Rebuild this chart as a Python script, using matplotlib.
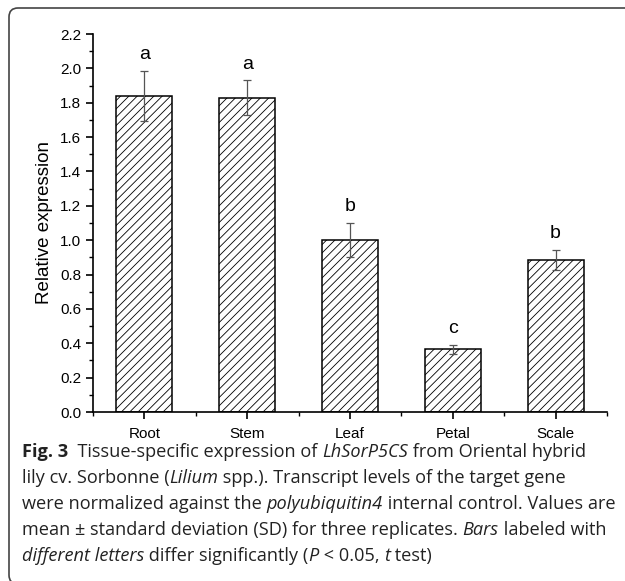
import numpy as np
import matplotlib
matplotlib.use("Agg")
import matplotlib.pyplot as plt
from matplotlib.patches import FancyBboxPatch
from matplotlib.ticker import MultipleLocator, FormatStrFormatter
from matplotlib.transforms import IdentityTransform

# data
tissues = ["Root", "Stem", "Leaf", "Petal", "Scale"]
expr = [1.84, 1.83, 1.00, 0.365, 0.885]
sd = [0.145, 0.10, 0.10, 0.027, 0.06]
letters = ["a", "a", "b", "c", "b"]

caption = [
    [("Fig. 3", "b"), ("  Tissue-specific expression of ", "n"), ("LhSorP5CS", "i"),
     (" from Oriental hybrid", "n")],
    [("lily cv. Sorbonne (", "n"), ("Lilium", "i"),
     (" spp.). Transcript levels of the target gene", "n")],
    [("were normalized against the ", "n"), ("polyubiquitin4", "i"),
     (" internal control. Values are", "n")],
    [("mean \u00b1 standard deviation (SD) for three replicates. ", "n"), ("Bars", "i"),
     (" labeled with", "n")],
    [("different letters", "i"), (" differ significantly (", "n"), ("P", "i"),
     (" < 0.05, ", "n"), ("t", "i"), (" test)", "n")],
]

plt.rcParams["font.family"] = ["Liberation Sans", "DejaVu Sans"]
plt.rcParams["hatch.linewidth"] = 0.6

W, H = 625, 581
fig = plt.figure(figsize=(W / 100, H / 100), dpi=100)

# rounded frame (pixel coordinates), right and bottom run off the page
frame = FancyBboxPatch((9, -3), 700, H - 8 + 3,
                       boxstyle="round,pad=0,rounding_size=9",
                       transform=IdentityTransform(), fill=False,
                       edgecolor="#444444", linewidth=1.2, clip_on=False)
fig.patches.append(frame)

ax = fig.add_axes([93 / W, 1 - 412 / H, 514 / W, (412 - 34) / H])
x = np.arange(1, len(tissues) + 1)
ax.bar(x, expr, width=0.545, color="white", edgecolor="black",
       hatch="////", linewidth=1.1, zorder=2)
ax.errorbar(x, expr, yerr=sd, fmt="none", ecolor="#555555",
            elinewidth=0.9, capsize=2.7, capthick=0.9, zorder=3)
for xi, m, s, lab in zip(x, expr, sd, letters):
    ax.text(xi, m + s + 0.095, lab, ha="center", va="center", fontsize=14)

ax.set_xlim(0.5, 5.5)
ax.set_ylim(0, 2.2)
ax.set_xticks(x)
ax.set_xticklabels(tissues)
ax.xaxis.set_minor_locator(MultipleLocator(1.0, offset=0.5))
ax.yaxis.set_major_locator(MultipleLocator(0.2))
ax.yaxis.set_minor_locator(MultipleLocator(0.1))
ax.yaxis.set_major_formatter(FormatStrFormatter("%.1f"))
for side in ["top", "right"]:
    ax.spines[side].set_visible(False)
for side in ["left", "bottom"]:
    ax.spines[side].set_linewidth(1.2)
ax.tick_params(which="major", direction="out", length=5, width=1.2,
               labelsize=11, pad=3.5)
ax.tick_params(which="minor", direction="out", length=3, width=1.0)
ax.tick_params(axis="x", which="major", pad=6)
ax.set_ylabel("Relative expression", fontsize=13.5, labelpad=5)

# caption, drawn segment by segment so italics/bold can be mixed
cap_font = "Open Sans"
cap_size = 13.1
styles = {"n": dict(), "i": dict(style="italic"), "b": dict(weight="bold")}
fig.canvas.draw()
renderer = fig.canvas.get_renderer()
baselines = [457, 483, 509, 535, 561]
for line, yb in zip(caption, baselines):
    xpos = 22
    for txt, st in line:
        t = fig.text(xpos / W, 1 - yb / H, txt, family=cap_font, fontsize=cap_size,
                     va="baseline", ha="left", color="#222222", **styles[st])
        bb = t.get_window_extent(renderer)
        xpos = bb.x1

fig.savefig("out.png", dpi=100)
